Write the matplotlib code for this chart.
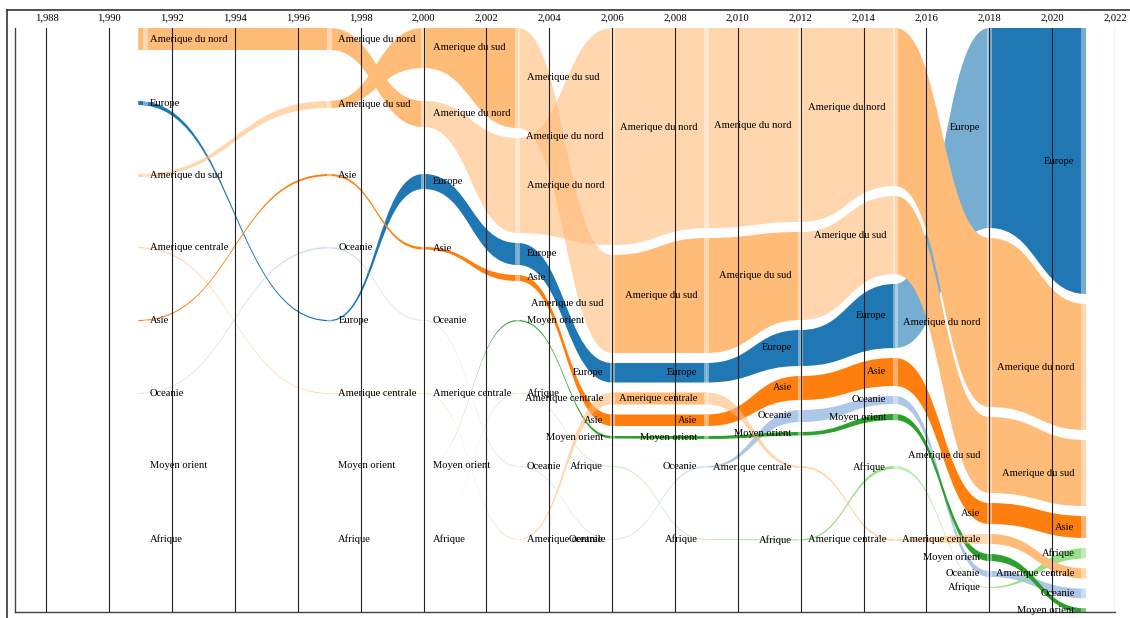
import numpy as np
import matplotlib
matplotlib.use("Agg")
import matplotlib.pyplot as plt
from matplotlib.path import Path
from matplotlib.patches import PathPatch, Rectangle
from matplotlib.lines import Line2D

# ---------------- data ----------------
years = [1991, 1997, 2000, 2003, 2006, 2009, 2012, 2015, 2018, 2021]
regions = ["Amerique du nord", "Amerique du sud", "Amerique centrale", "Europe",
           "Asie", "Oceanie", "Moyen orient", "Afrique"]

amerique_du_nord = [22, 22, 26, 95, 217, 200, 194, 158, 169, 126]
amerique_du_sud = [3, 7, 40, 100, 98, 115, 88, 78, 76, 66]
amerique_centrale = [1.3, 0.4, 0.4, 0.4, 12, 12, 2.0, 2, 10, 10.2]
europe = [4, 1.2, 15, 22, 19.5, 19.5, 36, 64, 200, 266]
asie = [1.1, 2.0, 2.5, 6, 11.5, 11.5, 24, 28, 21, 22]
oceanie = [0.5, 1.5, 0.6, 0.5, 0.8, 1.5, 12, 8, 6, 9.8]
moyen_orient = [0, 0, 0, 1.2, 2.5, 3, 3.5, 6, 7, 4.5]
afrique = [0, 0, 0, 0.8, 1.0, 1.0, 1.5, 3, 1, 10.5]

# emphasis of each period (1 = strong colour, 0 = faded)
emph_amerique_du_nord = [1, 1, 0, 0, 0, 0, 0, 1, 1]
emph_amerique_du_sud = [0, 1, 1, 0, 1, 1, 0, 1, 1]
emph_amerique_centrale = [0, 0, 0, 0, 1, 0, 0, 0, 1]
emph_europe = [1, 1, 1, 1, 1, 1, 1, 0, 1]
emph_asie = [1, 1, 1, 1, 1, 1, 1, 1, 1]
emph_oceanie = [0, 0, 0, 0, 0, 1, 1, 1, 1]
emph_moyen_orient = [0, 0, 1, 1, 1, 1, 1, 1, 1]
emph_afrique = [0, 0, 0, 0, 0, 0, 1, 0, 1]

values = [amerique_du_nord, amerique_du_sud, amerique_centrale, europe,
          asie, oceanie, moyen_orient, afrique]
emphasis = [emph_amerique_du_nord, emph_amerique_du_sud, emph_amerique_centrale,
            emph_europe, emph_asie, emph_oceanie, emph_moyen_orient, emph_afrique]
colors = ["#ffbb78", "#ffbb78", "#ffbb78", "#1f77b4",
          "#ff7f0e", "#aec7e8", "#2ca02c", "#98df8a"]
draw_order = ["Europe", "Oceanie", "Afrique", "Moyen orient", "Asie",
              "Amerique centrale", "Amerique du sud", "Amerique du nord"]

# ---------------- figure ----------------
W, H = 1130, 618
fig = plt.figure(figsize=(W / 100, H / 100), dpi=100)
ax = fig.add_axes([15 / W, 6 / H, 1100 / W, 584 / H])
ax.set_xlim(1987, 2022)
ax.set_ylim(584, 0)

SLOT, GAP, SCALE = 73.0, 10.0, 1.0
px_per_year = 1100 / 35.0
s = 2.5 / px_per_year

nR, nT = len(regions), len(years)
vals = np.array(values, float)
tops = np.zeros((nR, nT))
for j in range(nT):
    order = sorted(range(nR), key=lambda i: -vals[i, j])
    prev_bottom = None
    for k, i in enumerate(order):
        top = 0.0 if k == 0 else max(k * SLOT, prev_bottom + GAP)
        tops[i, j] = top
        prev_bottom = top + vals[i, j] * SCALE

def draw_thick(v):
    return max(v * SCALE, 0.8) if v > 0 else 0.0

bots = np.array([[tops[i, j] + draw_thick(vals[i, j]) for j in range(nT)] for i in range(nR)])

def ribbon(x0, x1, t0, b0, t1, b1):
    xm = (x0 + x1) / 2
    verts = [(x0, t0), (xm, t0), (xm, t1), (x1, t1),
             (x1, b1), (xm, b1), (xm, b0), (x0, b0), (x0, t0)]
    codes = [Path.MOVETO, Path.CURVE4, Path.CURVE4, Path.CURVE4,
             Path.LINETO, Path.CURVE4, Path.CURVE4, Path.CURVE4, Path.CLOSEPOLY]
    return Path(verts, codes)

for seg in range(nT - 1):
    x0 = years[seg] - (s if seg == 0 else 0)
    x1 = years[seg + 1] + (s if seg + 1 == nT - 1 else 0)
    for name in draw_order:
        i = regions.index(name)
        if vals[i, seg] <= 0 and vals[i, seg + 1] <= 0:
            continue
        a = 1.0 if emphasis[i][seg] else 0.6
        p = ribbon(x0, x1, tops[i, seg], bots[i, seg], tops[i, seg + 1], bots[i, seg + 1])
        ax.add_patch(PathPatch(p, facecolor=colors[i], edgecolor="none", alpha=a, zorder=1))

# lighter strips at each node
for j, t in enumerate(years):
    xs = t + s if j == 0 else t - s
    for i in range(nR):
        th = bots[i, j] - tops[i, j]
        if th <= 0:
            continue
        ax.add_patch(Rectangle((xs, tops[i, j]), 2 * s, th, facecolor="white",
                               edgecolor="none", alpha=0.4, zorder=1.5))

# labels
font = "Liberation Serif"
mid = (1987 + 2022) / 2
for j, t in enumerate(years):
    for i, name in enumerate(regions):
        yc = (tops[i, j] + tops[i, j] + vals[i, j] * SCALE) / 2
        if t < mid:
            ax.text(t + 9 / px_per_year, yc, name, ha="left", va="center",
                    fontsize=7.6, family=font, color="black", zorder=5)
        else:
            ax.text(t - 9 / px_per_year, yc, name, ha="right", va="center",
                    fontsize=7.6, family=font, color="black", zorder=5)

# axes styling
ticks = list(range(1988, 2023, 2))
ax.set_xticks(ticks)
ax.set_xticklabels([f"{y:,}" for y in ticks], family=font, fontsize=7.6)
ax.tick_params(axis="x", top=True, bottom=False, labeltop=True, labelbottom=False,
               length=0, pad=4)
ax.set_yticks([])
ax.grid(axis="x", color="#222222", lw=0.8)
ax.set_axisbelow(False)
for sp in ["top", "right"]:
    ax.spines[sp].set_visible(False)
for sp in ["left", "bottom"]:
    ax.spines[sp].set_color("#444444")
    ax.spines[sp].set_linewidth(1.0)

# outer frame
fig.add_artist(Line2D([6.5 / W, 6.5 / W], [0, 1 - 9.5 / H], color="#333333", lw=1.2))
fig.add_artist(Line2D([6.5 / W, 1], [1 - 9.5 / H, 1 - 9.5 / H], color="#333333", lw=1.2))

fig.savefig("out.png", dpi=100)
